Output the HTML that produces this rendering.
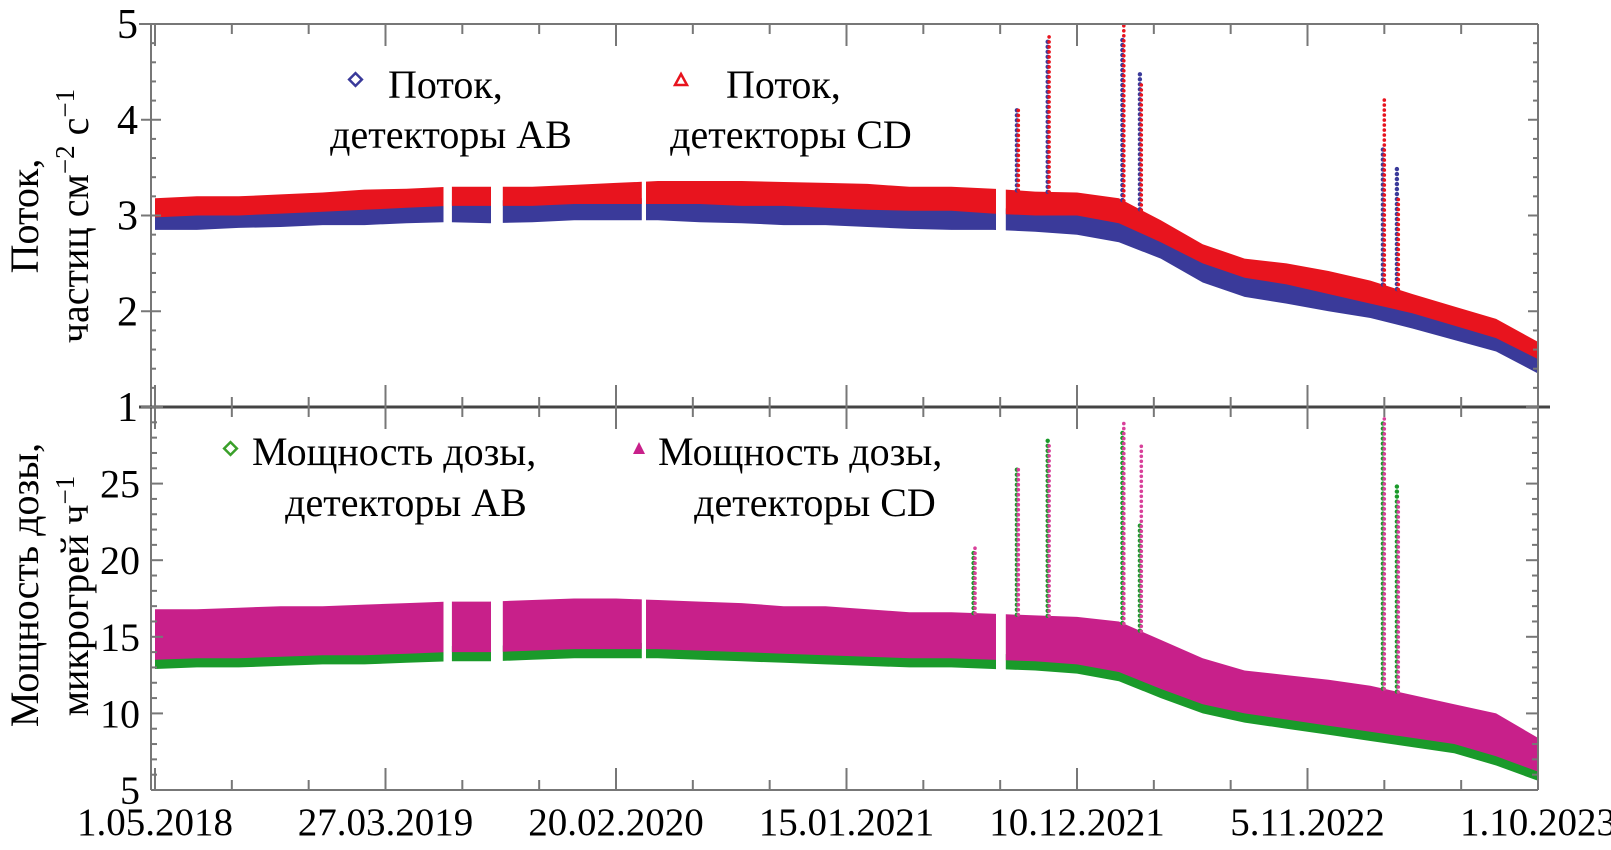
<!DOCTYPE html>
<html><head><meta charset="utf-8"><style>
html,body{margin:0;padding:0;background:#fff;}
svg{display:block;font-family:"Liberation Serif","Noto Serif CJK SC",serif;}
text{font-family:"Liberation Serif","Noto Serif CJK SC",serif;}
</style></head><body>
<svg id="chart" width="1611" height="850" viewBox="0 0 1611 850" xmlns="http://www.w3.org/2000/svg">
<g id="marks"></g>
<g id="axes"></g>
<g id="labels" fill="#000">
 <text transform="translate(38,216) rotate(-90)" text-anchor="middle" font-size="40">Поток,</text>
 <text transform="translate(88,216) rotate(-90)" text-anchor="middle" font-size="40">частиц см<tspan font-size="27" dy="-14">−2</tspan><tspan dy="14"> с</tspan><tspan font-size="27" dy="-14">−1</tspan></text>
 <text transform="translate(38,585) rotate(-90)" text-anchor="middle" font-size="40">Мощность дозы,</text>
 <text transform="translate(88,596) rotate(-90)" text-anchor="middle" font-size="40">микрогрей ч<tspan font-size="27" dy="-14">−1</tspan></text>
 <g>
  <rect x="351" y="75" width="9" height="9" fill="none" stroke="#3a3a9a" stroke-width="2.5" transform="rotate(45 355.5 79.5)"/>
  <text x="388" y="98" font-size="40">Поток,</text>
  <text x="451" y="148" font-size="40" text-anchor="middle">детекторы АВ</text>
 </g>
 <g>
  <polygon points="681,74 687,85 675,85" fill="none" stroke="#e8141e" stroke-width="2.5"/>
  <text x="726" y="98" font-size="40">Поток,</text>
  <text x="791" y="148" font-size="40" text-anchor="middle">детекторы CD</text>
 </g>
 <g>
  <rect x="226" y="444" width="9" height="9" fill="none" stroke="#3aa02a" stroke-width="2.5" transform="rotate(45 230.5 448.5)"/>
  <text x="252" y="465" font-size="40">Мощность дозы,</text>
  <text x="406" y="516" font-size="40" text-anchor="middle">детекторы АВ</text>
 </g>
 <g>
  <polygon points="639,442 645,454 633,454" fill="#c8208a"/>
  <text x="658" y="465" font-size="40">Мощность дозы,</text>
  <text x="815" y="516" font-size="40" text-anchor="middle">детекторы CD</text>
 </g>
</g>
</svg>
<script>
const days = [0,60,120,180,240,300,360,420,480,540,600,660,720,780,840,900,960,1020,1080,1140,1200,1260,1320,1380,1440,1500,1560,1620,1680,1740,1800,1860,1920,1980];
const fluxCDTop = [3.18,3.2,3.2,3.22,3.24,3.27,3.28,3.3,3.3,3.3,3.32,3.34,3.36,3.36,3.36,3.35,3.34,3.33,3.3,3.3,3.28,3.25,3.24,3.18,2.95,2.7,2.55,2.5,2.42,2.32,2.18,2.05,1.92,1.68];
const fluxCDBot = [2.98,3.0,3.0,3.02,3.04,3.06,3.08,3.1,3.1,3.1,3.12,3.12,3.12,3.12,3.1,3.1,3.08,3.06,3.05,3.05,3.02,3.0,3.0,2.92,2.72,2.5,2.35,2.28,2.18,2.08,1.98,1.85,1.72,1.5];
const fluxABBot = [2.85,2.85,2.87,2.88,2.9,2.9,2.92,2.93,2.92,2.93,2.95,2.95,2.95,2.93,2.92,2.9,2.9,2.88,2.86,2.85,2.85,2.83,2.8,2.72,2.55,2.3,2.15,2.08,2.0,1.93,1.82,1.7,1.58,1.35];
const doseCDTop = [16.8,16.8,16.9,17,17,17.1,17.2,17.3,17.3,17.4,17.5,17.5,17.4,17.3,17.2,17,17,16.8,16.6,16.6,16.5,16.4,16.3,16.0,14.8,13.6,12.8,12.5,12.2,11.8,11.2,10.6,10,8.4];
const doseCDBot = [13.5,13.6,13.6,13.7,13.8,13.8,13.9,14,14,14.1,14.2,14.2,14.2,14.1,14,13.9,13.8,13.7,13.6,13.6,13.5,13.4,13.2,12.7,11.6,10.6,10,9.6,9.2,8.8,8.4,8,7.2,6.2];
const doseABBot = [12.9,13.0,13.0,13.1,13.2,13.2,13.3,13.4,13.4,13.5,13.6,13.6,13.6,13.5,13.4,13.3,13.2,13.1,13.0,13.0,12.9,12.8,12.6,12.1,11.0,10.0,9.4,9.0,8.6,8.2,7.8,7.4,6.6,5.6];
const gapStart = [413,481,697,1204];
const gapEnd = [425,498,703,1218];
const spikeDays = [1234,1278,1385,1410,1758,1778];
const spikeFluxAB = [4.15,4.85,4.85,4.5,3.7,3.5];
const spikeFluxCD = [4.1,4.9,5.0,4.4,4.25,3.2];
const doseSpikeDays = [1172,1234,1278,1385,1410,1758,1778];
const doseSpikeAB = [20.5,26,28,28.5,22.5,29,25];
const doseSpikeCD = [21,26,27.5,29,27.5,29.5,24];
const xTickLabels = ["1.05.2018","27.03.2019","20.02.2020","15.01.2021","10.12.2021","5.11.2022","1.10.2023"];
const xTickDays = [0,330,660,990,1320,1650,1980];
const topTicks = [1,2,3,4,5];
const botTicks = [5,10,15,20,25];

const NS="http://www.w3.org/2000/svg";
const L=151,R=1538,T=24,MID=407,B=790;
const x=d=>155+d*(1538-155)/1980;
const yTop=v=>MID-(v-1)*(MID-T)/4;
const yBot=v=>B-(v-5)*(B-MID)/25;
const marks=document.getElementById('marks'), axes=document.getElementById('axes');
function mk(tag,attrs,parent){const e=document.createElementNS(NS,tag);for(const k in attrs)e.setAttribute(k,attrs[k]);parent.appendChild(e);return e;}
function segments(){
  const segs=[];
  const bounds=[0];gapStart.forEach((g,i)=>{bounds.push(g);bounds.push(gapEnd[i]);});bounds.push(1980);
  for(let i=0;i<bounds.length;i+=2)segs.push([bounds[i],bounds[i+1]]);
  return segs;
}
function interp(arr,d){for(let i=0;i<days.length-1;i++){if(d>=days[i]&&d<=days[i+1]){const t=(d-days[i])/(days[i+1]-days[i]);return arr[i]+t*(arr[i+1]-arr[i]);}}return arr[arr.length-1];}
function band(hi,lo,yf,color,name){
  segments().forEach(([a,b])=>{
    const ds=[a];days.forEach(d=>{if(d>a&&d<b)ds.push(d);});ds.push(b);
    const up=ds.map(d=>x(d).toFixed(1)+','+yf(interp(hi,d)).toFixed(1));
    const dn=ds.slice().reverse().map(d=>x(d).toFixed(1)+','+yf(interp(lo,d)).toFixed(1));
    const p=mk('polygon',{points:up.concat(dn).join(' '),fill:color},marks);
    
    
  });
}
function spikes(ds,vals,baseArr,yf,color,r,name){
  ds.forEach((d,i)=>{
    const base=interp(baseArr,d);
    const y0=yf(base),y1=yf(vals[i]);
    for(let y=y0;y>=y1;y-=5){
      const c=mk('circle',{cx:x(d).toFixed(1),cy:y.toFixed(1),r:r,fill:color},marks);
      
      
    }
  });
}
band(fluxCDBot.map(v=>v+0.06),fluxABBot,yTop,'#3a3a9a','flux-ab-band');
band(fluxCDTop,fluxCDBot,yTop,'#e8141e','flux-cd-band');
spikes(spikeDays,spikeFluxAB,fluxCDTop,yTop,'#3a3a9a',2.2,'flux-ab-spike');
spikes(spikeDays.map(d=>d+2),spikeFluxCD,fluxCDTop,yTop,'#e8141e',1.8,'flux-cd-spike');
band(doseCDBot.map(v=>v+0.4),doseABBot,yBot,'#1a9a2a','dose-ab-band');
band(doseCDTop,doseCDBot,yBot,'#c8208a','dose-cd-band');
spikes(doseSpikeDays,doseSpikeAB,doseCDTop,yBot,'#1a9a2a',2.2,'dose-ab-spike');
spikes(doseSpikeDays.map(d=>d+2),doseSpikeCD,doseCDTop,yBot,'#d8409a',1.8,'dose-cd-spike');

const frameCol='#777';
[[L,T,R,T],[L,T,L,B],[R,T,R,B],[L,B,R,B]].forEach(c=>{const l=mk('line',{x1:c[0],y1:c[1],x2:c[2],y2:c[3],stroke:frameCol,'stroke-width':2},axes);});
const mid=mk('line',{x1:L-12,y1:MID,x2:R+12,y2:MID,stroke:'#444','stroke-width':3},axes);

mk('line',{x1:L-12,y1:T,x2:L,y2:T,stroke:frameCol,'stroke-width':2},axes);
for(let d=0;d<=1980;d+=110){
  const major=(d%330===0);const len=major?22:10;const xx=x(d);
  [[B,B-len],[MID,MID-len],[T,T+len],[MID,MID+len]].forEach(p=>mk('line',{x1:xx,y1:p[0],x2:xx,y2:p[1],stroke:frameCol,'stroke-width':2},axes));
}
xTickDays.forEach((d,i)=>{const t=mk('text',{x:x(d),y:835,'font-size':39,'text-anchor':'middle'},axes);t.textContent=xTickLabels[i];});
for(let v=1;v<=5.001;v+=0.2){const y=yTop(v);const major=Math.abs(v-Math.round(v))<0.01;const len=major?10:5;
  mk('line',{x1:L,y1:y,x2:L+len,y2:y,stroke:frameCol,'stroke-width':2},axes);mk('line',{x1:R,y1:y,x2:R-len,y2:y,stroke:frameCol,'stroke-width':2},axes);
  if(major)mk('line',{x1:L-10,y1:y,x2:L,y2:y,stroke:frameCol,'stroke-width':2},axes);}
topTicks.forEach(v=>{const t=mk('text',{x:138,y:yTop(v)+14,'font-size':42,'text-anchor':'end'},axes);t.textContent=v;});
for(let v=5;v<=30;v+=1){const y=yBot(v);const major=v%5===0;const len=major?12:6;
  mk('line',{x1:L,y1:y,x2:L+len,y2:y,stroke:frameCol,'stroke-width':2},axes);mk('line',{x1:R,y1:y,x2:R-len,y2:y,stroke:frameCol,'stroke-width':2},axes);}
botTicks.forEach(v=>{const t=mk('text',{x:140,y:yBot(v)+14,'font-size':40,'text-anchor':'end'},axes);t.textContent=v;});
</script>
</body></html>
